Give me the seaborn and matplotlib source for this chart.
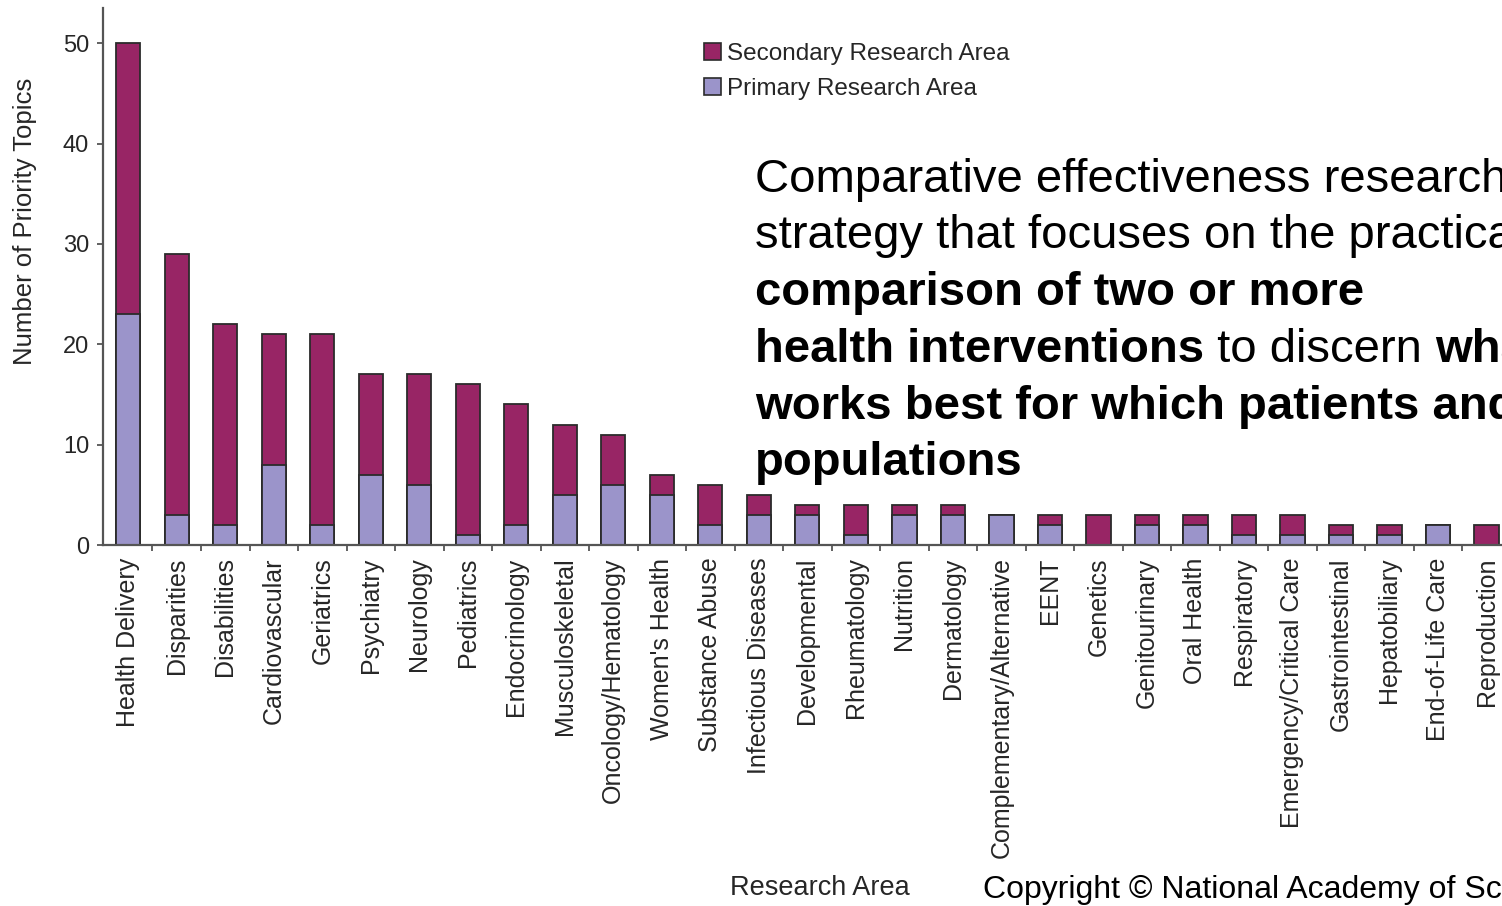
import matplotlib
matplotlib.use('Agg')
import matplotlib.pyplot as plt
import matplotlib.patches as mpatches
from matplotlib.transforms import IdentityTransform
import numpy as np
import pandas as pd
import seaborn as sns

# Values
areas = [
    'Health Delivery', 'Disparities', 'Disabilities', 'Cardiovascular', 'Geriatrics',
    'Psychiatry', 'Neurology', 'Pediatrics', 'Endocrinology', 'Musculoskeletal',
    'Oncology/Hematology', "Women's Health", 'Substance Abuse', 'Infectious Diseases',
    'Developmental', 'Rheumatology', 'Nutrition', 'Dermatology',
    'Complementary/Alternative', 'EENT', 'Genetics', 'Genitourinary', 'Oral Health',
    'Respiratory', 'Emergency/Critical Care', 'Gastrointestinal', 'Hepatobiliary',
    'End-of-Life Care', 'Reproduction',
]
primary = [23, 3, 2, 8, 2, 7, 6, 1, 2, 5, 6, 5, 2, 3, 3, 1, 3, 3, 3, 2, 0, 2, 2, 1, 1, 1, 1, 2, 0]
secondary = [27, 26, 20, 13, 19, 10, 11, 15, 12, 7, 5, 2, 4, 2, 1, 3, 1, 1, 0, 1, 3, 1, 1, 2, 2, 1, 1, 0, 2]
y_ticks = [0, 10, 20, 30, 40, 50]

SECONDARY_COLOR = '#982565'
PRIMARY_COLOR = '#9b94ca'
EDGE = '#2b2b2b'
AXIS = '#555555'
TEXT = '#262626'
FONT = 'Liberation Sans'

df = pd.DataFrame({'area': areas, 'primary': primary, 'secondary': secondary})
df['total'] = df['primary'] + df['secondary']

sns.set_style('ticks')
plt.rcParams['font.family'] = [FONT, 'DejaVu Sans']

W, H = 1502, 906
fig = plt.figure(figsize=(W / 100, H / 100), dpi=100)
ax = fig.add_axes([103 / W, (H - 545) / H, 0.9954, 537 / H])

# Stacked bars: full height in maroon, primary part drawn over it
sns.barplot(data=df, x='area', y='total', color=SECONDARY_COLOR, saturation=1,
            width=0.5, edgecolor=EDGE, linewidth=1.3, errorbar=None, ax=ax)
sns.barplot(data=df, x='area', y='primary', color=PRIMARY_COLOR, saturation=1,
            width=0.5, edgecolor=EDGE, linewidth=1.3, errorbar=None, ax=ax)

ax.set_xlim(-0.52, 30.3)
ax.set_ylim(0, 53.5)
ax.set_yticks(y_ticks)
ax.set_xlabel('')

# Axis styling
for side in ['top', 'right']:
    ax.spines[side].set_visible(False)
for side in ['left', 'bottom']:
    ax.spines[side].set_color(AXIS)
    ax.spines[side].set_linewidth(1.6)

ax.tick_params(axis='y', length=4, width=1.3, color=AXIS, pad=6,
               labelsize=17, labelcolor=TEXT)
ax.tick_params(axis='x', which='major', length=0, pad=9,
               labelsize=18, labelcolor=TEXT, labelrotation=90)
ax.set_xticks(np.arange(0.5, 30, 1), minor=True)
ax.tick_params(axis='x', which='minor', length=4, width=1.3, color=AXIS, direction='out')
for lbl in ax.get_xticklabels():
    lbl.set_va('top')
    lbl.set_ha('center')

ax.set_ylabel('Number of Priority Topics', fontsize=18.5, color=TEXT)
ax.yaxis.set_label_coords(-0.044, 0.603)

# Legend
handles = [
    mpatches.Patch(facecolor=SECONDARY_COLOR, edgecolor=EDGE, linewidth=1.2, label='Secondary Research Area'),
    mpatches.Patch(facecolor=PRIMARY_COLOR, edgecolor=EDGE, linewidth=1.2, label='Primary Research Area'),
]
fig.legend(handles=handles, loc='upper left', bbox_to_anchor=(704 / W, 1 - 43 / H),
           frameon=False, fontsize=17.5, handlelength=0.7, handleheight=0.7,
           handletextpad=0.25, labelspacing=0.55, borderaxespad=0, borderpad=0,
           labelcolor=TEXT)

fig.text(820 / W, 1 - 888 / H, 'Research Area', fontsize=19.5, color=TEXT,
         ha='center', va='center')
fig.text(983 / W, 1 - 898 / H, 'Copyright \u00a9 National Academy of Sciences',
         fontsize=23, color='black', ha='left', va='baseline')

# Overlay text with mixed bold / regular runs
lines = [
    (192, [('Comparative effectiveness research is a', False)]),
    (248, [('strategy that focuses on the practical', False)]),
    (305, [('comparison of two or more', True)]),
    (362, [('health interventions', True), (' to discern ', False), ('what', True)]),
    (419, [('works best for which patients and', True)]),
    (475, [('populations', True)]),
]
for base, pieces in lines:
    last = None
    for s, bold in pieces:
        weight = 'bold' if bold else 'normal'
        if last is None:
            last = fig.text(755, H - base, s, transform=IdentityTransform(),
                            fontsize=34, fontweight=weight, color='black',
                            ha='left', va='baseline')
        else:
            last = ax.annotate(s, xy=(1, 0), xycoords=last, va='bottom', ha='left',
                               fontsize=34, fontweight=weight, color='black',
                               annotation_clip=False)

fig.savefig('out.png', dpi=100)
